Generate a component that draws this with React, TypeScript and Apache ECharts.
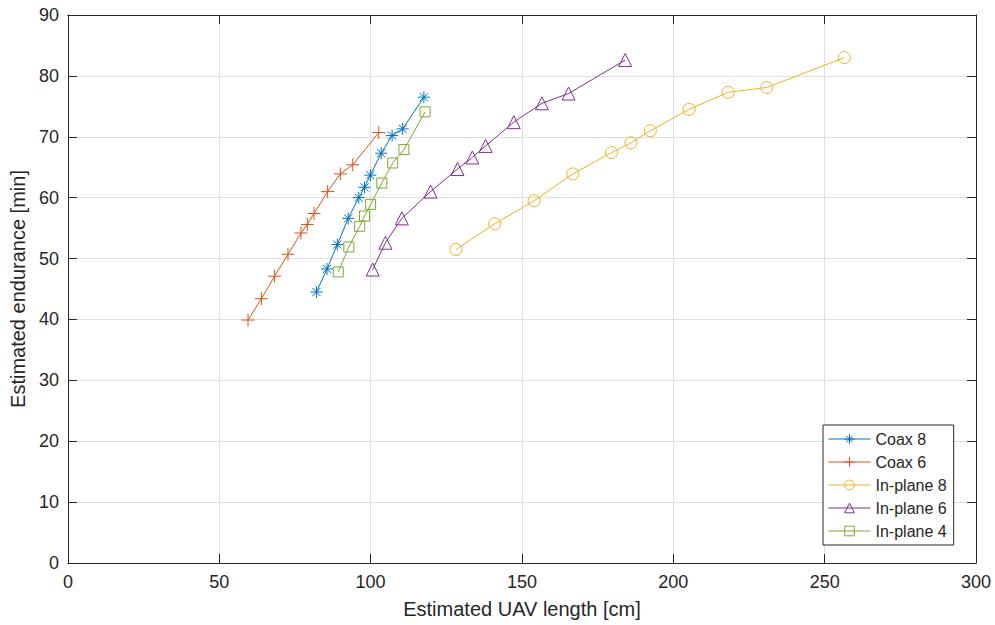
import React, { useEffect, useRef } from "react";
import * as echarts from "echarts";

// Estimated UAV length [cm] and endurance [min] per configuration
const coax8Length = [82.1, 85.6, 89.0, 92.6, 96.1, 98.0, 99.9, 103.5, 107.1, 110.6, 117.6];
const coax8Endurance = [44.5, 48.3, 52.3, 56.6, 60.0, 61.7, 63.7, 67.3, 70.2, 71.3, 76.5];

const coax6Length = [59.5, 63.9, 68.3, 72.7, 77.0, 79.1, 81.3, 85.8, 90.0, 94.1, 102.7];
const coax6Endurance = [39.9, 43.4, 47.1, 50.7, 54.2, 55.6, 57.4, 61.0, 63.9, 65.4, 70.7];

const inPlane8Length = [128.2, 141.0, 154.0, 166.8, 179.6, 186.0, 192.4, 205.2, 218.1, 230.9, 256.5];
const inPlane8Endurance = [51.5, 55.7, 59.5, 63.9, 67.4, 69.0, 71.0, 74.5, 77.3, 78.1, 83.0];

const inPlane6Length = [100.7, 104.9, 110.3, 119.8, 128.7, 133.6, 138.0, 147.3, 156.6, 165.4, 184.1];
const inPlane6Endurance = [48.2, 52.6, 56.6, 61.0, 64.7, 66.6, 68.5, 72.4, 75.5, 77.1, 82.6];

const inPlane4Length = [89.3, 92.8, 96.4, 98.0, 100.0, 103.7, 107.3, 111.0, 118.0];
const inPlane4Endurance = [47.8, 51.9, 55.3, 57.0, 58.9, 62.4, 65.7, 67.9, 74.1];

const seriesNames = ["Coax 8", "Coax 6", "In-plane 8", "In-plane 6", "In-plane 4"];

const FONT = "'Liberation Sans', Arial, Helvetica, sans-serif";
const TEXT = "#262626";
const GRID = "#dfdfdf";

const ASTERISK = "path://M5,0 L5,10 M0,5 L10,5 M1.6,1.6 L8.4,8.4 M8.4,1.6 L1.6,8.4";
const PLUS = "path://M5,0 L5,10 M0,5 L10,5";

function pairs(xs: number[], ys: number[]) {
  return xs.map((x, i) => [x, ys[i]]);
}

function lineSeries(name: string, data: number[][], color: string, symbol: string, size: number) {
  return {
    name,
    type: "line",
    data,
    xAxisIndex: 0,
    yAxisIndex: 0,
    symbol,
    symbolSize: size,
    showAllSymbol: true,
    lineStyle: { color, width: 1 },
    itemStyle: { color: "rgba(0,0,0,0)", borderColor: color, borderWidth: 1 },
    emphasis: { disabled: true },
    z: 3,
  };
}

export default function App() {
  const ref = useRef<HTMLDivElement>(null);

  useEffect(() => {
    if (!ref.current) return;
    const chart = echarts.init(ref.current, undefined, { renderer: "svg" });

    const tick = { show: true, inside: true, length: 9, lineStyle: { color: TEXT, width: 1 } };
    const axisLine = { show: true, onZero: false, lineStyle: { color: TEXT, width: 1 } };

    chart.setOption({
      animation: false,
      backgroundColor: "#ffffff",
      textStyle: { fontFamily: FONT },
      grid: { left: 65, right: 19, top: 15, bottom: 62, containLabel: false },
      xAxis: [
        {
          type: "value",
          min: 0,
          max: 300,
          interval: 50,
          position: "bottom",
          name: "Estimated UAV length [cm]",
          nameLocation: "middle",
          nameGap: 36,
          nameTextStyle: { color: TEXT, fontSize: 20, fontFamily: FONT },
          axisLine,
          axisTick: tick,
          axisLabel: { color: TEXT, fontSize: 18, fontFamily: FONT, margin: 10 },
          splitLine: { show: true, lineStyle: { color: GRID, width: 1 } },
        },
        {
          type: "value",
          min: 0,
          max: 300,
          interval: 50,
          position: "top",
          axisLine,
          axisTick: tick,
          axisLabel: { show: false },
          splitLine: { show: false },
        },
      ],
      yAxis: [
        {
          type: "value",
          min: 0,
          max: 90,
          interval: 10,
          position: "left",
          name: "Estimated endurance [min]",
          nameLocation: "middle",
          nameGap: 32,
          nameTextStyle: { color: TEXT, fontSize: 20, fontFamily: FONT },
          axisLine,
          axisTick: tick,
          axisLabel: { color: TEXT, fontSize: 18, fontFamily: FONT, margin: 9 },
          splitLine: { show: true, lineStyle: { color: GRID, width: 1 } },
        },
        {
          type: "value",
          min: 0,
          max: 90,
          interval: 10,
          position: "right",
          axisLine,
          axisTick: tick,
          axisLabel: { show: false },
          splitLine: { show: false },
        },
      ],
      legend: {
        data: seriesNames,
        orient: "vertical",
        left: 823,
        top: 425,
        padding: [5, 7, 5, 5],
        itemWidth: 42,
        itemHeight: 12,
        itemGap: 5,
        backgroundColor: "#ffffff",
        borderColor: TEXT,
        borderWidth: 1,
        borderRadius: 0,
        lineStyle: { width: 1 },
        itemStyle: { borderWidth: 1 },
        textStyle: { color: TEXT, fontSize: 16, fontFamily: FONT, lineHeight: 18, padding: [0, 0, 0, 0] },
        selectedMode: false,
        z: 10,
      },
      series: [
        lineSeries("Coax 8", pairs(coax8Length, coax8Endurance), "#0072BD", ASTERISK, 12),
        lineSeries("Coax 6", pairs(coax6Length, coax6Endurance), "#D95319", PLUS, 13),
        lineSeries("In-plane 8", pairs(inPlane8Length, inPlane8Endurance), "#EDB120", "circle", 12),
        lineSeries("In-plane 6", pairs(inPlane6Length, inPlane6Endurance), "#7E2F8E", "triangle", 13),
        lineSeries("In-plane 4", pairs(inPlane4Length, inPlane4Endurance), "#77AC30", "rect", 10),
      ],
    });

    return () => chart.dispose();
  }, []);

  return (
    <div
      ref={ref}
      style={{ position: "fixed", left: 0, top: 0, width: 995, height: 625, background: "#ffffff" }}
    />
  );
}
